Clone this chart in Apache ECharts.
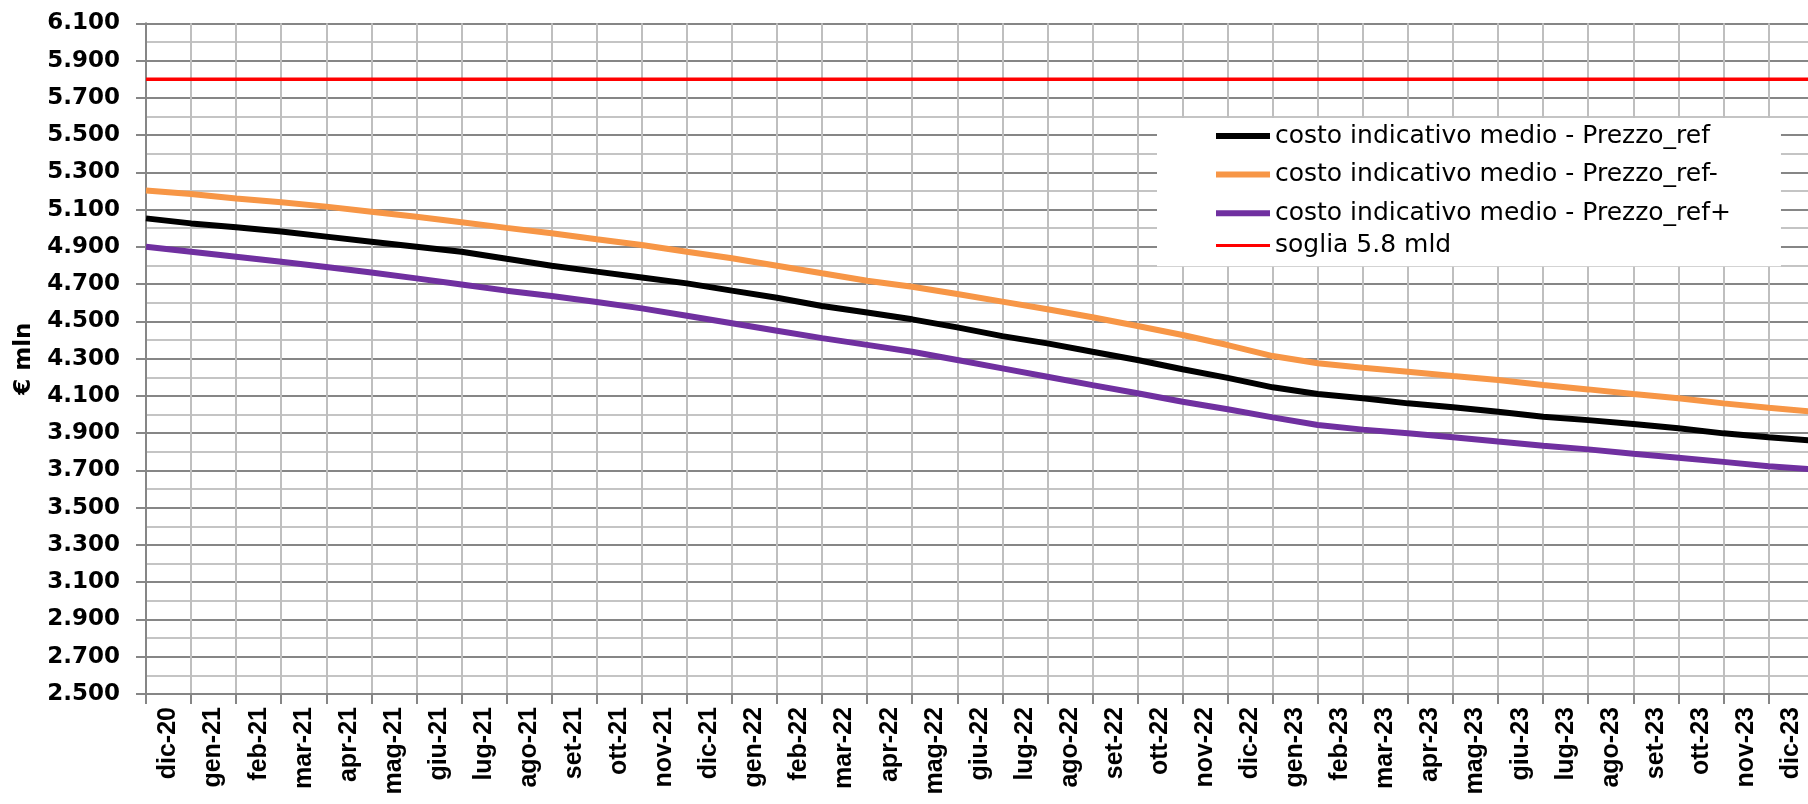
<!DOCTYPE html>
<html>
<head>
<meta charset="utf-8">
<script src="https://cdn.jsdelivr.net/npm/echarts@6/dist/echarts.min.js"></script>
<style>
html,body{margin:0;padding:0;background:#ffffff;}
#c{width:1808px;height:804px;}
</style>
</head>
<body>
<div id="c"></div>
<script>
// Monthly categories (the last one, gen-24, lies just beyond the visible crop)
const categories = ['dic-20','gen-21','feb-21','mar-21','apr-21','mag-21','giu-21','lug-21','ago-21','set-21','ott-21','nov-21',
  'dic-21','gen-22','feb-22','mar-22','apr-22','mag-22','giu-22','lug-22','ago-22','set-22','ott-22','nov-22',
  'dic-22','gen-23','feb-23','mar-23','apr-23','mag-23','giu-23','lug-23','ago-23','set-23','ott-23','nov-23',
  'dic-23','gen-24'];
// Tick labels shown under the axis
const tickLabels = ['dic-20','gen-21','feb-21','mar-21','apr-21','mag-21','giu-21','lug-21','ago-21','set-21','ott-21','nov-21',
  'dic-21','gen-22','feb-22','mar-22','apr-22','mag-22','giu-22','lug-22','ago-22','set-22','ott-22','nov-22',
  'dic-22','gen-23','feb-23','mar-23','apr-23','mag-23','giu-23','lug-23','ago-23','set-23','ott-23','nov-23',
  'dic-23'];

const prezzoRef = [5053,5026,5005,4982,4955,4928,4901,4874,4836,4799,4767,4736,
  4704,4665,4627,4583,4548,4511,4468,4421,4382,4337,4293,4243,
  4197,4146,4110,4087,4060,4039,4015,3988,3970,3949,3926,3899,
  3878,3860];
const prezzoRefMinus = [5202,5184,5160,5139,5116,5089,5062,5032,5002,4973,4941,4910,
  4874,4839,4799,4758,4718,4686,4647,4606,4565,4522,4475,4427,
  4373,4314,4275,4251,4230,4207,4185,4158,4135,4110,4087,4060,
  4037,4015];
const prezzoRefPlus = [4901,4874,4847,4820,4792,4762,4731,4698,4665,4636,4604,4570,
  4530,4490,4450,4410,4374,4337,4293,4248,4203,4158,4114,4069,
  4028,3985,3944,3919,3899,3878,3855,3833,3813,3790,3768,3746,
  3722,3706];
const soglia = [5800,5800,5800,5800,5800,5800,5800,5800,5800,5800,5800,5800,
  5800,5800,5800,5800,5800,5800,5800,5800,5800,5800,5800,5800,
  5800,5800,5800,5800,5800,5800,5800,5800,5800,5800,5800,5800,
  5800,5800];

const seriesNames = ['costo indicativo medio - Prezzo_ref','costo indicativo medio - Prezzo_ref-','costo indicativo medio - Prezzo_ref+','soglia 5.8 mld'];

const fmt = v => String(v).replace(/\B(?=(\d{3})+(?!\d))/g, '.');
const FONT = 'DejaVu Sans';

const chart = echarts.init(document.getElementById('c'), null, {renderer:'canvas'});
const option = {
  animation:false,
  backgroundColor:'#ffffff',
  grid:{left:146, top:23.3, width:1667.6, height:670.7, containLabel:false, outerBoundsMode:'none'},
  legend:[
    {
      data:seriesNames.slice(0,3),
      orient:'vertical', left:1157, top:118,
      padding:[4,50,39,59],
      itemWidth:54, itemHeight:6, itemGap:10.6,
      icon:'rect', backgroundColor:'#ffffff', selectedMode:false,
      textStyle:{fontFamily:FONT, fontSize:25, color:'#000', lineHeight:28},
      z:5
    },
    {
      data:seriesNames.slice(3),
      orient:'vertical', left:1216, top:231.5,
      padding:0,
      itemWidth:54, itemHeight:3, itemGap:10.6,
      icon:'rect', selectedMode:false,
      textStyle:{fontFamily:FONT, fontSize:25, color:'#000', lineHeight:28},
      z:6
    }
  ],
  xAxis:[
    {
      type:'category', data:categories, boundaryGap:false, position:'top',
      axisLine:{show:false}, axisTick:{show:false, interval:0}, axisLabel:{show:false, interval:0},
      splitLine:{show:true, interval:0, lineStyle:{color:'#bfbfbf', width:2}}
    },
    {
      type:'category', data:tickLabels, boundaryGap:true, position:'bottom',
      axisLine:{show:true, lineStyle:{color:'#868686', width:2}},
      axisTick:{show:true, interval:0, length:10, lineStyle:{color:'#868686', width:2}},
      axisLabel:{rotate:90, interval:0, margin:13, fontFamily:'Liberation Sans', fontWeight:'bold', fontSize:25, color:'#000'},
      splitLine:{show:false}
    }
  ],
  yAxis:{
    type:'value', min:2500, max:6100, interval:200,
    axisLine:{show:true, lineStyle:{color:'#868686', width:2}},
    axisTick:{show:true, length:10, lineStyle:{color:'#868686', width:2}},
    minorTick:{show:false, splitNumber:2},
    splitLine:{show:true, lineStyle:{color:'#868686', width:2}},
    minorSplitLine:{show:true, lineStyle:{color:'#c4c4c4', width:2}},
    axisLabel:{formatter:fmt, fontFamily:FONT, fontWeight:'bold', fontSize:23, color:'#000', margin:26},
    name:'€ mln', nameLocation:'middle', nameGap:110, nameRotate:90,
    nameTextStyle:{fontFamily:FONT, fontWeight:'bold', fontSize:23, color:'#000'}
  },
  series:[
    {name:seriesNames[0], type:'line', xAxisIndex:0, data:prezzoRef, symbol:'none', showSymbol:false,
      lineStyle:{color:'#000000', width:6}, itemStyle:{color:'#000000'}, z:4},
    {name:seriesNames[1], type:'line', xAxisIndex:0, data:prezzoRefMinus, symbol:'none', showSymbol:false,
      lineStyle:{color:'#F79646', width:6}, itemStyle:{color:'#F79646'}, z:3},
    {name:seriesNames[2], type:'line', xAxisIndex:0, data:prezzoRefPlus, symbol:'none', showSymbol:false,
      lineStyle:{color:'#7030A0', width:6}, itemStyle:{color:'#7030A0'}, z:3},
    {name:seriesNames[3], type:'line', xAxisIndex:0, data:soglia, symbol:'none', showSymbol:false,
      lineStyle:{color:'#FF0000', width:3.5}, itemStyle:{color:'#FF0000'}, z:3}
  ]
};
chart.setOption(option);
</script>
</body>
</html>
